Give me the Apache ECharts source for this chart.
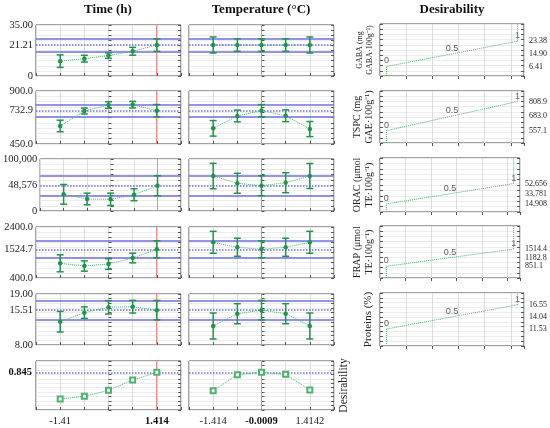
<!DOCTYPE html>
<html>
<head>
<meta charset="utf-8">
<script src="https://cdn.jsdelivr.net/npm/echarts@6/dist/echarts.min.js"></script>
<style>
	html, body { margin: 0; padding: 0; background: #fff; }
	#chart { width: 550px; height: 428px; }
</style>
</head>
<body>
<div id="chart"></div>
<script>
// coded factor levels (same for both factors)
var levels = [-1.414, -0.707, 0, 0.707, 1.414];
var currentLevel = [1.414, -0.0009];
var factorNames = ['Time (h)', 'Temperature (°C)'];
var timeTickValues = [-1.414, 1.414];
var timeTickText = ['-1.41', '1.414'];
var timeTickBold = [false, true];
var tempTickValues = [-1.414, -0.0009, 1.4142];
var tempTickText = ['-1.414', '-0.0009', '1.4142'];
var tempTickBold = [false, true, false];

// responses
var yMin = [0, 450, 0, 400, 8];
var yMax = [35, 900, 100000, 2400, 19];
var yStep = [3.5, 45, 10000, 200, 1];
var yCur = [21.21, 732.9, 48576, 1524.7, 15.51];
var yMinText = ['0', '450.0', '0', '400.0', '8.00'];
var yMaxText = ['35.00', '900.0', '100,000', '2400.0', '19.00'];
var yCurText = ['21.21', '732.9', '48,576', '1524.7', '15.51'];
var ciLow = [16.9, 681, 29300, 1190, 13.4];
var ciHigh = [25.5, 785, 67900, 1859, 17.6];

var gabaTime = [10.2, 11.9, 14.0, 17.0, 21.21];
var gabaTimeErr = [4.3, 2.3, 1.9, 2.7, 4.3];
var gabaTemp = [21.3, 21.25, 21.21, 21.25, 21.3];
var gabaTempErr = [5.5, 4.3, 4.3, 4.3, 5.5];
var tspcTime = [603, 730, 781, 784, 732.9];
var tspcTimeErr = [49, 25, 28, 28, 52];
var tspcTemp = [583, 688, 732.9, 690, 577];
var tspcTempErr = [66, 50, 52, 50, 64];
var oracTime = [32100, 23100, 22500, 31350, 48576];
var oracTimeErr = [18900, 11200, 11900, 11500, 19300];
var oracTemp = [67300, 53300, 48576, 54400, 67300];
var oracTempErr = [24400, 19200, 19300, 19200, 24000];
var frapTime = [976, 870, 949, 1184, 1524.7];
var frapTimeErr = [333, 202, 208, 190, 335];
var frapTemp = [1800, 1604, 1524.7, 1604, 1800];
var frapTempErr = [431, 353, 335, 353, 431];
var protTime = [13.03, 14.97, 16.13, 16.26, 15.51];
var protTimeErr = [2.22, 1.25, 1.44, 1.37, 2.1];
var protTemp = [12.1, 14.75, 15.51, 14.75, 12.1];
var protTempErr = [2.8, 2.16, 2.1, 2.16, 2.8];

// overall desirability
var desTime = [0.247, 0.308, 0.442, 0.673, 0.845];
var desTemp = [0.433, 0.792, 0.845, 0.80, 0.449];
var desCur = 0.845;
var desCurText = '0.845';

// desirability functions (response value for d = 0, 0.5, 1)
var desNames = ['GABA (mg\nGABA·100g⁻¹)', 'TSPC (mg\nGAE·100g⁻¹)', 'ORAC (μmol\nTE·100g⁻¹)', 'FRAP (μmol\nTE·100g⁻¹)', 'Proteins (%)'];
var desLow = [6.41, 557.1, 14908, 851.1, 11.53];
var desMid = [14.90, 683.0, 33781, 1182.8, 14.04];
var desHigh = [23.38, 808.9, 52656, 1514.4, 16.55];
var desLowText = ['6.41', '557.1', '14,908', '851.1', '11.53'];
var desMidText = ['14.90', '683.0', '33,781', '1182.8', '14.04'];
var desHighText = ['23.38', '808.9', '52,656', '1514.4', '16.55'];
var desPos = [0.25, 2.75, 5.25];
var desPosText = ['0', '0.5', '1'];

var means = [[gabaTime, gabaTemp], [tspcTime, tspcTemp], [oracTime, oracTemp], [frapTime, frapTemp], [protTime, protTemp]];
var errs = [[gabaTimeErr, gabaTempErr], [tspcTimeErr, tspcTempErr], [oracTimeErr, oracTempErr], [frapTimeErr, frapTempErr], [protTimeErr, protTempErr]];

// layout
var colLeft = [36, 189];
var colWidth = 145;
var rowTop = [25, 91, 159, 227, 294, 361];
var rowHeight = [51, 53, 52, 51, 51, 49];
var desLeft = 380, desWidth = 144;
var desTop = [24, 91, 158, 226, 293];
var desHeight = [52, 52, 54, 52, 53];
var desNameSize = [8, 10, 10, 10, 11];

var XSTEP = 0.70711;
var SERIF = 'Liberation Serif';
var GREEN = '#1f954a';
var GREEN_LINE = '#4cb26f';
var BLUE = '#6f6fe0';
var RED = '#ec8a8a';

var grids = [], xAxes = [], yAxes = [], series = [];

function nearest(values, v) {
	var best = 0;
	for (var i = 1; i < values.length; i++) {
		if (Math.abs(values[i] - v) < Math.abs(values[best] - v)) best = i;
	}
	return best;
}

function tickLabel(values, texts, bold) {
	return function(v) {
		var i = nearest(values, v);
		return bold && bold[i] ? '{b|' + texts[i] + '}' : texts[i];
	};
}

function addGrid(left, top, width, height) {
	grids.push({ left: left, top: top, width: width, height: height, show: true, borderColor: '#444', borderWidth: 1 });
	return grids.length - 1;
}

function renderErrorBar(params, api) {
	var x = api.value(0), y = api.value(1), e = api.value(2);
	var top = api.coord([x, y + e]);
	var bot = api.coord([x, y - e]);
	var w = 3.5;
	var st = { stroke: GREEN, lineWidth: 1.5 };
	return {
		type: 'group',
		children: [
			{ type: 'line', shape: { x1: top[0], y1: top[1], x2: bot[0], y2: bot[1] }, style: st },
			{ type: 'line', shape: { x1: top[0] - w, y1: top[1], x2: top[0] + w, y2: top[1] }, style: st },
			{ type: 'line', shape: { x1: bot[0] - w, y1: bot[1], x2: bot[0] + w, y2: bot[1] }, style: st }
		]
	};
}

function factorXAxis(gi, c, showLabels) {
	var vals = c == 0 ? timeTickValues : tempTickValues;
	var txt = c == 0 ? timeTickText : tempTickText;
	var bold = c == 0 ? timeTickBold : tempTickBold;
	xAxes.push({
		gridIndex: gi, type: 'value', min: -3 * XSTEP, max: 3 * XSTEP, interval: XSTEP,
		axisLine: { show: false },
		axisTick: { show: true, inside: true, length: 3, lineStyle: { color: '#555' } },
		splitLine: { lineStyle: { color: '#dcdcdc' } },
		axisLabel: showLabels ? {
			customValues: vals, formatter: tickLabel(vals, txt, bold), margin: 6,
			fontFamily: SERIF, fontSize: 10.5, color: '#222',
			rich: { b: { fontFamily: SERIF, fontSize: 10.5, fontWeight: 'bold', color: '#111' } }
		} : { show: false }
	});
	return xAxes.length - 1;
}

function addYPair(gi, min, max, step, label, rightName) {
	yAxes.push({
		gridIndex: gi, type: 'value', min: min, max: max, interval: step,
		axisLine: { show: false },
		axisTick: { show: true, inside: true, length: 3, lineStyle: { color: '#555' } },
		splitLine: { lineStyle: { color: '#ececec' } },
		axisLabel: label || { show: false }
	});
	var yi = yAxes.length - 1;
	var right = {
		gridIndex: gi, type: 'value', position: 'right', min: min, max: max, interval: step,
		axisLine: { show: false },
		axisTick: { show: true, inside: true, length: 3, lineStyle: { color: '#555' } },
		splitLine: { show: false },
		axisLabel: { show: false }
	};
	if (rightName) {
		right.name = rightName;
		right.nameLocation = 'middle';
		right.nameRotate = 90;
		right.nameGap = 4;
		right.nameTextStyle = { fontFamily: SERIF, fontSize: 11.5, color: '#222' };
	}
	yAxes.push(right);
	return yi;
}

// response rows
for (var r = 0; r < 5; r++) {
	for (var c = 0; c < 2; c++) {
		var gi = addGrid(colLeft[c], rowTop[r], colWidth, rowHeight[r]);
		var xi = factorXAxis(gi, c, false);
		var yVals = [yMin[r], yCur[r], yMax[r]];
		var yTxt = [yMinText[r], yCurText[r], yMaxText[r]];
		var yi = addYPair(gi, yMin[r], yMax[r], yStep[r], c == 0 ? {
			customValues: yVals, formatter: tickLabel(yVals, yTxt), margin: 3,
			fontFamily: SERIF, fontSize: 10.5, color: '#222'
		} : null);
		var m = means[r][c], e = errs[r][c];
		series.push({
			type: 'custom', xAxisIndex: xi, yAxisIndex: yi, renderItem: renderErrorBar, z: 4,
			data: levels.map(function(x, i) { return [x, m[i], e[i]]; })
		});
		series.push({
			type: 'line', xAxisIndex: xi, yAxisIndex: yi, z: 5,
			data: levels.map(function(x, i) { return [x, m[i]]; }),
			symbol: 'circle', symbolSize: 4.5,
			itemStyle: { color: GREEN },
			lineStyle: { color: GREEN_LINE, width: 1, type: 'dotted' },
			markLine: {
				silent: true, symbol: 'none', label: { show: false }, z: 3,
				data: [
					{ yAxis: ciHigh[r], lineStyle: { color: BLUE, width: 1.5, type: 'solid' } },
					{ yAxis: ciLow[r], lineStyle: { color: BLUE, width: 1.5, type: 'solid' } },
					{ yAxis: yCur[r], lineStyle: { color: BLUE, width: 1.5, type: 'dotted' } },
					{ xAxis: currentLevel[c], lineStyle: { color: RED, width: 1, type: 'solid' } }
				]
			}
		});
	}
}

// overall desirability row
for (var c = 0; c < 2; c++) {
	var gi = addGrid(colLeft[c], rowTop[5], colWidth, rowHeight[5]);
	var xi = factorXAxis(gi, c, true);
	var yi = addYPair(gi, 0, 1.1, 0.1, c == 0 ? {
		customValues: [desCur], formatter: function() { return '{b|' + desCurText + '}'; }, margin: 4,
		rich: { b: { fontFamily: SERIF, fontSize: 10.5, fontWeight: 'bold', color: '#111' } }
	} : null, c == 1 ? 'Desirability' : null);
	var d = c == 0 ? desTime : desTemp;
	series.push({
		type: 'line', xAxisIndex: xi, yAxisIndex: yi, z: 5,
		data: levels.map(function(x, i) { return [x, d[i]]; }),
		symbol: 'emptyRect', symbolSize: 5,
		itemStyle: { color: GREEN_LINE, borderWidth: 1 },
		lineStyle: { color: GREEN_LINE, width: 1, type: 'dotted' },
		markLine: {
			silent: true, symbol: 'none', label: { show: false }, z: 3,
			data: [
				{ yAxis: desCur, lineStyle: { color: BLUE, width: 1.5, type: 'dotted' } },
				{ xAxis: currentLevel[c], lineStyle: { color: RED, width: 1, type: 'solid' } }
			]
		}
	});
}

// desirability function panels
for (var r = 0; r < 5; r++) {
	var gi = addGrid(desLeft, desTop[r], desWidth, desHeight[r]);
	xAxes.push({
		gridIndex: gi, type: 'value', min: 0, max: 5.5, interval: 1,
		axisLine: { show: false },
		axisTick: { show: true, inside: false, length: 3, lineStyle: { color: '#555' } },
		splitLine: { lineStyle: { color: '#dcdcdc' } },
		axisLabel: { show: false }
	});
	var xi = xAxes.length - 1;
	yAxes.push({
		gridIndex: gi, type: 'value', min: yMin[r], max: yMax[r], interval: yStep[r],
		name: desNames[r], nameLocation: 'middle', nameRotate: 90, nameGap: 5,
		nameTextStyle: { fontFamily: SERIF, fontSize: desNameSize[r], color: '#222', lineHeight: desNameSize[r] + 2 },
		axisLine: { show: false },
		axisTick: { show: true, inside: true, length: 3, lineStyle: { color: '#555' } },
		splitLine: { lineStyle: { color: '#ececec' } },
		axisLabel: { show: false }
	});
	var yi = yAxes.length - 1;
	var rv = [desLow[r], desMid[r], desHigh[r]];
	var rt = [desLowText[r], desMidText[r], desHighText[r]];
	yAxes.push({
		gridIndex: gi, type: 'value', position: 'right', min: yMin[r], max: yMax[r], interval: yStep[r],
		axisLine: { show: false },
		axisTick: { show: true, inside: true, length: 3, lineStyle: { color: '#555' } },
		splitLine: { show: false },
		axisLabel: { customValues: rv, formatter: tickLabel(rv, rt), margin: 5, fontFamily: SERIF, fontSize: 8, color: '#222' }
	});
	var dashed = { color: GREEN_LINE, width: 1, type: 'dotted' };
	series.push({
		type: 'line', xAxisIndex: xi, yAxisIndex: yi, symbol: 'none', lineStyle: dashed,
		data: [[desPos[0], desLow[r]], [desPos[2], desHigh[r]]]
	});
	series.push({
		type: 'line', xAxisIndex: xi, yAxisIndex: yi, symbol: 'none', lineStyle: dashed,
		data: [[desPos[0], yMin[r]], [desPos[0], desLow[r]]]
	});
	series.push({
		type: 'line', xAxisIndex: xi, yAxisIndex: yi, symbol: 'none', lineStyle: dashed,
		data: [[desPos[2], desHigh[r]], [desPos[2], yMax[r]]]
	});
	series.push({
		type: 'scatter', xAxisIndex: xi, yAxisIndex: yi, symbolSize: 0, silent: true,
		data: [[desPos[0], desLow[r], desPosText[0]], [desPos[1], desMid[r], desPosText[1]], [desPos[2], desHigh[r], desPosText[2]]],
		label: {
			show: true, position: 'top', distance: 1,
			formatter: function(p) { return p.value[2]; },
			fontFamily: 'Liberation Sans', fontSize: 9, color: '#333'
		}
	});
}

var titleStyle = { fontFamily: SERIF, fontSize: 13, fontWeight: 'bold', fill: '#111', textAlign: 'center', textVerticalAlign: 'middle' };
option = {
	animation: false,
	backgroundColor: '#fff',
	grid: grids,
	xAxis: xAxes,
	yAxis: yAxes,
	series: series,
	graphic: [
		{ type: 'text', x: 108, y: 10, style: Object.assign({ text: factorNames[0] }, titleStyle) },
		{ type: 'text', x: 261, y: 10, style: Object.assign({ text: factorNames[1] }, titleStyle) },
		{ type: 'text', x: 452, y: 10, style: Object.assign({ text: 'Desirability' }, titleStyle) }
	]
};

var chart = echarts.init(document.getElementById('chart'));
chart.setOption(option);
</script>
</body>
</html>
